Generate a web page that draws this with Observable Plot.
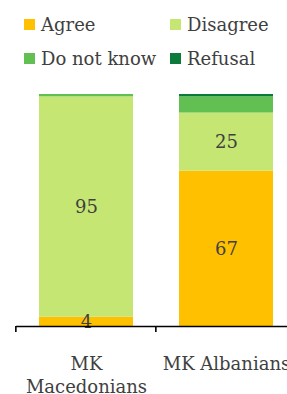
<!DOCTYPE html>
<html>
<head>
<meta charset="utf-8">
<script src="https://cdn.jsdelivr.net/npm/d3@7"></script>
<script src="https://cdn.jsdelivr.net/npm/@observablehq/plot@0.6"></script>
<style>
  html, body { margin: 0; padding: 0; background: #fff; overflow: hidden; width: 287px; height: 394px; }
  #legend { position: relative; height: 80px; font-family: "DejaVu Serif", serif; font-size: 18px; color: #404040; }
  .item { position: absolute; display: flex; align-items: center; white-space: nowrap; }
  .sw { width: 11px; height: 11px; margin-right: 6px; }
  svg { display: block; }
</style>
</head>
<body>
<div id="legend"></div>
<div id="chart"></div>
<script>
const categories = ["MK\nMacedonians", "MK Albanians"];
const seriesNames = ["Agree", "Disagree", "Do not know", "Refusal"];
const seriesColors = ["#FFC000", "#C5E672", "#62C052", "#0B7A3A"];
const agree = [4, 67];
const disagree = [95, 25];
const doNotKnow = [1, 7];
const refusal = [0, 1];
const labelledSeries = ["Agree", "Disagree"];

const valuesBySeries = [agree, disagree, doNotKnow, refusal];
const data = [];
categories.forEach((c, i) => {
  seriesNames.forEach((s, j) => {
    data.push({category: c, series: s, value: valuesBySeries[j][i]});
  });
});

// legend
const legendPos = [[24, 24], [170, 24], [24, 58], [170, 58]];
const legend = document.getElementById("legend");
seriesNames.forEach((s, j) => {
  const it = document.createElement("div");
  it.className = "item";
  it.style.left = legendPos[j][0] + "px";
  it.style.top = (legendPos[j][1] - 11) + "px";
  it.style.height = "22px";
  it.innerHTML = `<span class="sw" style="background:${seriesColors[j]}"></span><span>${s}</span>`;
  legend.appendChild(it);
});

const chart = Plot.plot({
  width: 287,
  height: 314,
  marginTop: 14,
  marginBottom: 68,
  marginLeft: 16,
  marginRight: 0,
  style: {fontFamily: "DejaVu Serif, serif", color: "#404040", overflow: "hidden"},
  x: {domain: categories, range: [16, 296], paddingInner: 0.33, paddingOuter: 0.165, axis: null},
  y: {domain: [0, 100], axis: null},
  color: {domain: seriesNames, range: seriesColors},
  marks: [
    Plot.barY(data, {x: "category", y: "value", fill: "series", z: "series"}),
    Plot.text(data, Plot.stackY({
      x: "category", y: "value", z: "series",
      text: d => labelledSeries.includes(d.series) ? String(d.value) : "",
      fontSize: 18, fill: "#404040"
    })),
    Plot.ruleY([0], {stroke: "#000", strokeWidth: 1.6}),
    Plot.axisX({tickSize: 0, tickPadding: 27, fontSize: 18, lineHeight: 1.27, fill: "#404040", label: null})
  ]
});

// boundary ticks between categories, via the plot's own x scale
const xs = chart.scale("x");
const ys = chart.scale("y");
const step = xs.bandwidth / (1 - 0.33);
const bounds = categories.map(c => xs.apply(c) - (step - xs.bandwidth) / 2);
d3.select(chart).append("g")
  .attr("stroke", "#000").attr("stroke-width", 1.6)
  .selectAll("line").data(bounds).join("line")
  .attr("x1", d => d).attr("x2", d => d)
  .attr("y1", ys.apply(0)).attr("y2", ys.apply(0) + 6);

document.getElementById("chart").appendChild(chart);
</script>
</body>
</html>
